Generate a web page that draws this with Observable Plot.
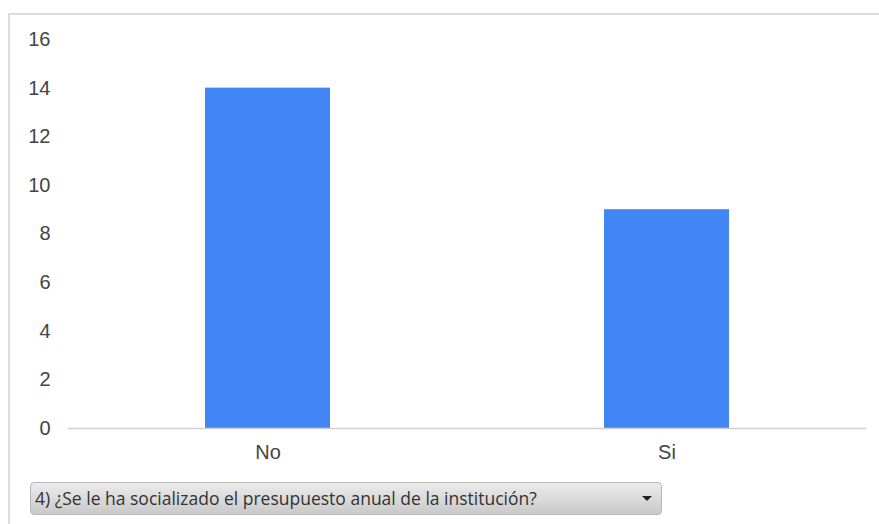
<!DOCTYPE html>
<html>
<head>
<meta charset="utf-8">
<script src="https://cdn.jsdelivr.net/npm/d3@7"></script>
<script src="https://cdn.jsdelivr.net/npm/@observablehq/plot@0.6"></script>
<style>
  html, body { margin: 0; padding: 0; background: #fff; width: 879px; height: 524px; overflow: hidden; }
  #frame { position: absolute; left: 8px; top: 13px; width: 900px; height: 600px; border-top: 2px solid #dcdcdc; border-left: 2px solid #dcdcdc; box-sizing: border-box; }
  #chart { position: absolute; left: 0; top: 0; }
  #select { position: absolute; left: 30px; top: 482px; width: 632px; height: 33px; box-sizing: border-box;
    border: 1px solid #b9b9b9; border-radius: 4px; background: linear-gradient(#ececec, #c9c9c9);
    font-family: "Open Sans", "Noto Sans", sans-serif; font-size: 17.5px; color: #333; line-height: 30px; padding-left: 4px; white-space: nowrap; }
  #arrow { position: absolute; right: 9px; top: 13px; width: 0; height: 0; border-left: 5px solid transparent; border-right: 5px solid transparent; border-top: 5px solid #222; }
</style>
</head>
<body>
<div id="frame"></div>
<div id="chart"></div>
<div id="select">4) ¿Se le ha socializado el presupuesto anual de la institución?<div id="arrow"></div></div>
<script>
const categories = ["No", "Si"];
const counts = [14, 9];
const yTicks = [0, 2, 4, 6, 8, 10, 12, 14, 16];

const data = categories.map((c, i) => ({category: c, count: counts[i]}));

const chart = Plot.plot({
  width: 879,
  height: 470,
  marginTop: 39,
  marginBottom: 42,
  marginLeft: 68,
  marginRight: 13,
  style: {fontFamily: "'Liberation Sans', Arial, sans-serif", fontSize: "20px", color: "#444", background: "transparent"},
  x: {domain: categories, paddingInner: 0.687, paddingOuter: 0.3435, label: null},
  y: {domain: [0, 16], label: null},
  marks: [
    Plot.barY(data, {x: "category", y: "count", fill: "#4285f4"}),
    Plot.ruleY([0], {stroke: "#d0d0d0", strokeWidth: 1.5}),
    Plot.axisY({ticks: yTicks, tickSize: 0, tickPadding: 18, label: null, fill: "#444", fontSize: 20}),
    Plot.axisX({tickSize: 0, tickPadding: 16, label: null, fill: "#444", fontSize: 20})
  ]
});
document.getElementById("chart").appendChild(chart);
</script>
</body>
</html>
